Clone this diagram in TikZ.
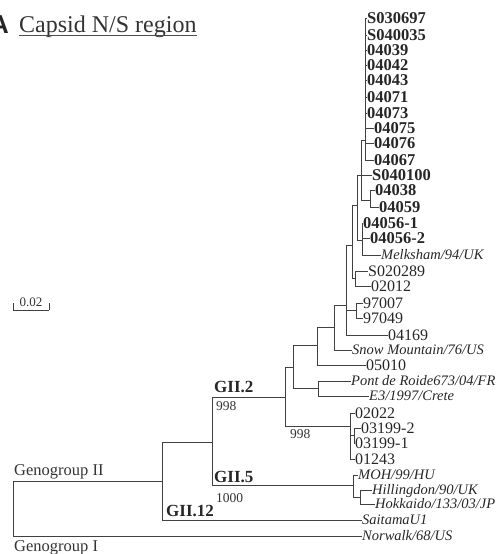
\documentclass[tikz,border=0pt]{standalone}
\usepackage{fontspec}
\setmainfont{Liberation Serif}
\newfontfamily\labelsans{Liberation Sans}
\begin{document}
\begin{tikzpicture}[x=1pt,y=-1pt,
  br/.style={draw=black!75, line width=1pt},
  lb/.style={anchor=west, inner sep=0pt, text=black!85, font=\fontsize{16.5}{18}\selectfont\bfseries, text height=11.2pt, text depth=0pt},
  lr/.style={anchor=west, inner sep=0pt, text=black!85, font=\fontsize{16}{17}\selectfont, text height=10.9pt, text depth=0pt},
  li/.style={anchor=west, inner sep=0pt, text=black!85, font=\fontsize{14.5}{16}\selectfont\itshape, text height=9.9pt, text depth=0pt},
  clade/.style={anchor=base west, inner sep=0pt, text=black!85, font=\fontsize{17}{18}\selectfont\bfseries},
  boot/.style={anchor=base west, inner sep=0pt, text=black!80, font=\fontsize{13.5}{15}\selectfont},
  grp/.style={anchor=base west, inner sep=0pt, text=black!80, font=\fontsize{16.5}{18}\selectfont},
]
\useasboundingbox (0,0) rectangle (500,554);
\begin{scope}
\clip (0,0) rectangle (500,554);
\node[anchor=base east, inner sep=0pt, text=black!85, font=\labelsans\fontsize{26}{28}\selectfont\bfseries] (panel) at (9,33) {A};
\end{scope}
\node[anchor=base west, inner sep=0pt, text=black!80, font=\fontsize{24}{26}\selectfont] (title) at (19,32) {Capsid N/S region};
\draw[draw=black!70, line width=0.9pt] ([yshift=-3.5pt]title.base west) -- ([yshift=-3.5pt]title.base east);

% scale bar
\coordinate (sb1) at (13,310);
\coordinate (sb2) at (49,310);
\draw[br, line width=0.8pt] (sb1) -- (sb2);
\draw[br, line width=0.8pt] (sb1) -- ++(0,-7);
\draw[br, line width=0.8pt] (sb2) -- ++(0,-7);
\node[anchor=base, inner sep=0pt, text=black!80, font=\fontsize{13}{14}\selectfont] (sbl) at (31,306) {0.02};

% leaves
\node[lb] (s030697) at (367,18) {S030697};
\node[lb] (s040035) at (367,35) {S040035};
\node[lb] (n04039) at (367,50) {04039};
\node[lb] (n04042) at (367,65) {04042};
\node[lb] (n04043) at (367,80) {04043};
\node[lb] (n04071) at (367,97) {04071};
\node[lb] (n04073) at (367,113) {04073};
\node[lb] (n04075) at (374,128) {04075};
\node[lb] (n04076) at (374,143) {04076};
\node[lb] (n04067) at (374,160) {04067};
\node[lb] (s040100) at (372,175) {S040100};
\node[lb] (n04038) at (375,190) {04038};
\node[lb] (n04059) at (379,207) {04059};
\node[lb] (n04056a) at (363,223) {04056-1};
\node[lb] (n04056b) at (370,238) {04056-2};
\node[li] (melk) at (381,255) {Melksham/94/UK};
\node[lr] (s020289) at (368,271) {S020289};
\node[lr] (n02012) at (371,286) {02012};
\node[lr] (n97007) at (363,303) {97007};
\node[lr] (n97049) at (363,318) {97049};
\node[lr] (n04169) at (388,335) {04169};
\node[li] (snow) at (352,350) {Snow Mountain/76/US};
\node[lr] (n05010) at (366,365) {05010};
\node[li] (pont) at (351,381) {Pont de Roide673/04/FR};
\node[li] (e3) at (369,396) {E3/1997/Crete};
\node[lr] (n02022) at (355,413) {02022};
\node[lr] (n03199b) at (361,428) {03199-2};
\node[lr] (n03199a) at (355,443) {03199-1};
\node[lr] (n01243) at (355,459) {01243};
\node[li] (moh) at (358,475) {MOH/99/HU};
\node[li] (hill) at (372,490) {Hillingdon/90/UK};
\node[li] (hokk) at (375,504) {Hokkaido/133/03/JP};
\node[li] (sait) at (362,520) {SaitamaU1};
\node[li] (norw) at (362,536) {Norwalk/68/US};

% internal nodes
\coordinate (A) at (365,140);
\coordinate (B2) at (361,175);
\coordinate (C) at (370,200);
\coordinate (E) at (362,240);
\coordinate (D) at (357,205);
\coordinate (G) at (355,278);
\coordinate (F) at (352,245);
\coordinate (I) at (356,310);
\coordinate (H) at (346,305);
\coordinate (Cn) at (334,327);
\coordinate (B) at (317,345);
\coordinate (PE) at (318,388);
\coordinate (U) at (293,367);
\coordinate (X) at (354,435);
\coordinate (L) at (350,426);
\coordinate (GIItwo) at (285,397);
\coordinate (HH) at (360,497);
\coordinate (GVfive) at (353,485);
\coordinate (Gup) at (212,442);
\coordinate (GII) at (162,481);
\coordinate (root) at (13,508);

% edges
\foreach \c in {s030697,s040035,n04039,n04042,n04043,n04071,n04073,n04075,n04076,n04067}
  \draw[br] (A) |- (\c.west);
\draw[br] (B2) |- (A);
\draw[br] (B2) |- (s040100.west);
\draw[br] (B2) |- (C);
\draw[br] (C) |- (n04038.west);
\draw[br] (C) |- (n04059.west);
\draw[br] (E) |- (n04056a.west);
\draw[br] (E) |- (n04056b.west);
\draw[br] (E) |- (melk.west);
\draw[br] (D) |- (B2);
\draw[br] (D) |- (E);
\draw[br] (G) |- (s020289.west);
\draw[br] (G) |- (n02012.west);
\draw[br] (F) |- (D);
\draw[br] (F) |- (G);
\draw[br] (I) |- (n97007.west);
\draw[br] (I) |- (n97049.west);
\draw[br] (H) |- (F);
\draw[br] (H) |- (I);
\draw[br] (H) |- (n04169.west);
\draw[br] (Cn) |- (H);
\draw[br] (Cn) |- (snow.west);
\draw[br] (B) |- (Cn);
\draw[br] (B) |- (n05010.west);
\draw[br] (PE) |- (pont.west);
\draw[br] (PE) |- (e3.west);
\draw[br] (U) |- (B);
\draw[br] (U) |- (PE);
\draw[br] (X) |- (n03199b.west);
\draw[br] (X) |- (n03199a.west);
\draw[br] (L) |- (n02022.west);
\draw[br] (L) |- (X);
\draw[br] (L) |- (n01243.west);
\draw[br] (GIItwo) |- (U);
\draw[br] (GIItwo) |- (L);
\draw[br] (HH) |- (hill.west);
\draw[br] (HH) |- (hokk.west);
\draw[br] (GVfive) |- (moh.west);
\draw[br] (GVfive) |- (HH);
\draw[br] (Gup) |- (GIItwo);
\draw[br] (Gup) |- (GVfive);
\draw[br] (GII) |- (Gup);
\draw[br] (GII) |- (sait.west);
\draw[br] (root) |- (GII);
\draw[br] (root) |- (norw.west);

% clade and bootstrap labels
\node[clade] (lGII2) at (214,392) {GII.2};
\node[boot] (b998a) at (216,410) {998};
\node[boot] (b998b) at (290,438) {998};
\node[clade] (lGII5) at (214,482) {GII.5};
\node[boot] (b1000) at (216,502) {1000};
\node[clade] (lGII12) at (166,516) {GII.12};
\node[grp] (g2) at (14,475) {Genogroup II};
\node[grp] (g1) at (14,551) {Genogroup I};
\end{tikzpicture}
\end{document}
